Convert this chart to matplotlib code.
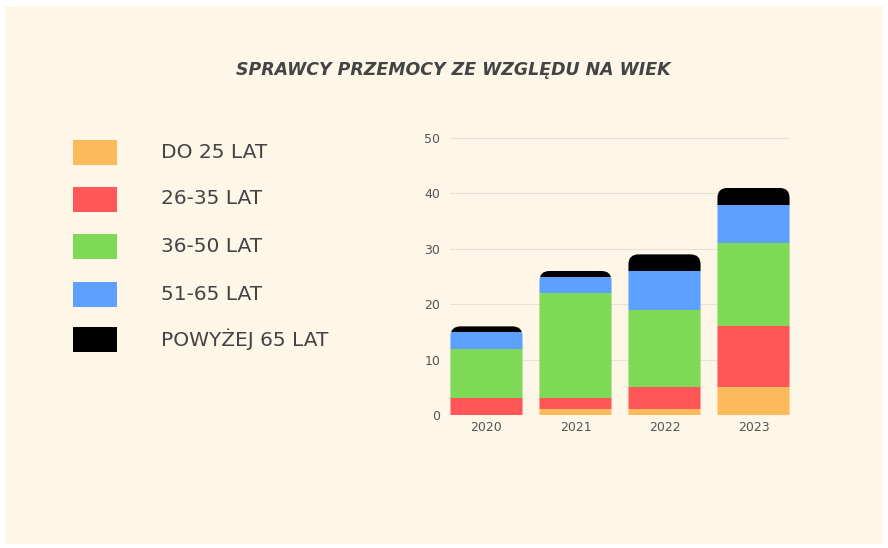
import matplotlib.pyplot as plt
from matplotlib.patches import FancyBboxPatch, Rectangle
import numpy as np

# Dane: sprawcy przemocy wg wieku
lata = ['2020', '2021', '2022', '2023']
grupy = ['DO 25 LAT', '26-35 LAT', '36-50 LAT', '51-65 LAT', 'POWYŻEJ 65 LAT']
do_25 = [0, 1, 1, 5]
lat_26_35 = [3, 2, 4, 11]
lat_36_50 = [9, 19, 14, 15]
lat_51_65 = [3, 3, 7, 7]
powyzej_65 = [1, 1, 3, 3]
serie = [do_25, lat_26_35, lat_36_50, lat_51_65, powyzej_65]
kolory = ['#FDBA5A', '#FF5757', '#7ED957', '#5CA1FF', '#000000']

tlo = '#FEF6E7'
tekst = '#444444'

fig = plt.figure(figsize=(8.88, 5.48), dpi=100)
fig.patch.set_facecolor('white')
fig.add_artist(Rectangle((5 / 888, 4 / 548), 878 / 888, 538 / 548,
                         transform=fig.transFigure, facecolor=tlo,
                         edgecolor='none', zorder=0))

ax = fig.add_axes([450 / 888, 133 / 548, 340 / 888, 288 / 548])
ax.set_facecolor('none')
x = np.arange(len(lata))
ax.set_xlim(-0.41, 3.41)
ax.set_ylim(0, 52)

# Zaokrąglone góry słupków przez clip path
px_x = 340 / 3.82
px_y = 288 / 52
aspekt = px_x / px_y
sumy = np.sum(serie, axis=0)
szer = 0.81
klipy = []
for i in range(len(lata)):
    p = FancyBboxPatch((x[i] - szer / 2, -5), szer, sumy[i] + 5,
                       boxstyle='round,pad=0,rounding_size=%f' % (10 / px_x),
                       mutation_aspect=aspekt, transform=ax.transData)
    klipy.append(p)

dol = np.zeros(len(lata))
for s, k in zip(serie, kolory):
    bars = ax.bar(x, s, szer, bottom=dol, color=k, zorder=3)
    for b, p in zip(bars, klipy):
        b.set_clip_path(p)
    dol += np.array(s)

ax.set_yticks([0, 10, 20, 30, 40, 50])
ax.set_xticks(x)
ax.set_xticklabels(lata)
ax.grid(axis='y', color='#E6E0D6', linewidth=0.8, zorder=0)
ax.tick_params(length=0, labelsize=9, labelcolor='#555555')
ax.tick_params(axis='y', pad=7)
ax.tick_params(axis='x', pad=4)
for sp in ax.spines.values():
    sp.set_visible(False)

# Tytuł
fig.text(453 / 888, 1 - 70 / 548, 'SPRAWCY PRZEMOCY ZE WZGLĘDU NA WIEK',
         ha='center', va='center', fontsize=12.5, fontstyle='italic',
         fontweight='bold', color=tekst, family='DejaVu Sans')

# Legenda
wiersze = [152, 199, 247, 294, 339]
for g, k, yy in zip(grupy, kolory, wiersze):
    fig.add_artist(Rectangle((73 / 888, 1 - (yy + 12.5) / 548), 44 / 888, 25 / 548,
                             transform=fig.transFigure, facecolor=k, edgecolor='none'))
    fig.text(161 / 888, 1 - yy / 548, g, ha='left', va='center', fontsize=14.5,
             color=tekst, family='DejaVu Sans')

plt.savefig('out.png', dpi=100, facecolor=fig.get_facecolor())
